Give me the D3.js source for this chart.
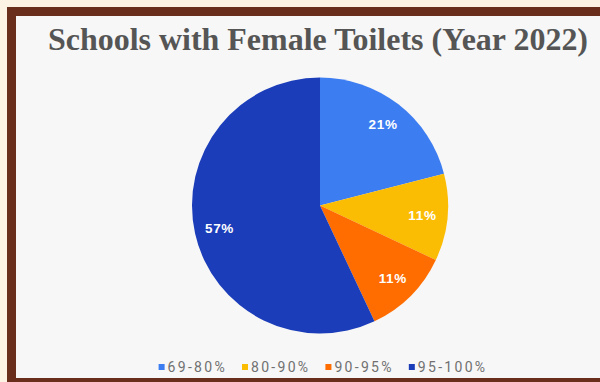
<!DOCTYPE html>
<html>
<head>
<meta charset="utf-8">
<script src="https://cdn.jsdelivr.net/npm/d3@7"></script>
<style>
  html, body { margin: 0; padding: 0; background: #fdf3e5; }
  svg { display: block; }
</style>
</head>
<body>
<svg id="chart" width="600" height="382"></svg>
<script>
// Share of schools with female toilets, by coverage band (2022)
const categories = ["69-80%", "80-90%", "90-95%", "95-100%"];
const shares = [21, 11, 11, 57];
const colors = ["#3d7df2", "#fbbc04", "#ff6d01", "#1b3db9"];
const title = "Schools with Female Toilets (Year 2022)";

const W = 600, H = 382;
const svg = d3.select("#chart");

// page frame: cream margin, brown border, light panel
svg.append("rect").attr("width", W).attr("height", H).attr("fill", "#fdf3e5");
svg.append("rect").attr("x", 7).attr("y", 7).attr("width", W - 7).attr("height", H - 7).attr("fill", "#6a2e1d");
svg.append("rect").attr("x", 16).attr("y", 16).attr("width", W - 16).attr("height", 362).attr("fill", "#f7f7f7");

// title
svg.append("text")
  .attr("x", 318).attr("y", 50)
  .attr("text-anchor", "middle")
  .attr("font-family", "'Liberation Serif', 'Times New Roman', serif")
  .attr("font-weight", "bold")
  .attr("font-size", 32.5)
  .attr("textLength", 540)
  .attr("lengthAdjust", "spacingAndGlyphs")
  .attr("fill", "#555555")
  .text(title);

// pie
const cx = 320, cy = 205.5, R = 128;
const pie = d3.pie().sort(null).value(d => d)(shares);
const arc = d3.arc().innerRadius(0).outerRadius(R);
const labelArc = d3.arc().innerRadius(103).outerRadius(103);

const g = svg.append("g").attr("transform", `translate(${cx},${cy})`);
g.selectAll("path.slice")
  .data(pie)
  .join("path")
  .attr("class", "slice")
  .attr("d", arc)
  .attr("fill", (d, i) => colors[i]);

g.selectAll("text.pct")
  .data(pie)
  .join("text")
  .attr("class", "pct")
  .attr("transform", d => `translate(${labelArc.centroid(d)})`)
  .attr("text-anchor", "middle")
  .attr("dy", "0.36em")
  .attr("font-family", "Arial, 'Liberation Sans', sans-serif")
  .attr("font-weight", "bold")
  .attr("font-size", 13.5)
  .attr("letter-spacing", 0.7)
  .attr("fill", "#ffffff")
  .text(d => d.value + "%");

// legend, centred under the pie
const legend = svg.append("g");
const items = legend.selectAll("g.item")
  .data(categories)
  .join("g")
  .attr("class", "item");
items.append("rect")
  .attr("width", 6).attr("height", 6)
  .attr("y", -8)
  .attr("fill", (d, i) => colors[i]);
items.append("text")
  .attr("x", 9)
  .attr("font-family", "Roboto, Arial, sans-serif")
  .attr("font-size", 14)
  .attr("letter-spacing", 2.3)
  .attr("fill", "#707070")
  .text(d => d);

let x = 0;
items.each(function () {
  const w = this.getBBox().width;
  d3.select(this).attr("transform", `translate(${x},0)`);
  x += w + 15;
});
const total = x - 15;
legend.attr("transform", `translate(${323 - total / 2},372)`);
</script>
</body>
</html>
